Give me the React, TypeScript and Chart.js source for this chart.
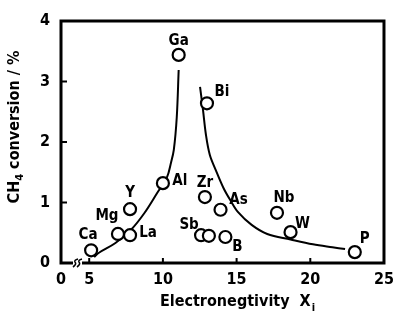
import React, { useEffect, useRef } from "react";
import { Chart, registerables } from "chart.js";

Chart.register(...registerables);

// ---- data ----
const elementLabels = ["Ca", "Mg", "La", "Y", "Al", "Ga", "Bi", "Zr", "As", "Sb", "", "B", "Nb", "W", "P"];
const electronegativity = [5.13, 6.95, 7.77, 7.77, 10.0, 11.07, 12.99, 12.85, 13.91, 12.59, 13.12, 14.24, 17.74, 18.66, 23.02];
const conversion = [0.21, 0.48, 0.46, 0.89, 1.32, 3.44, 2.64, 1.09, 0.88, 0.46, 0.45, 0.43, 0.83, 0.51, 0.18];

const leftCurveX = [5.33, 5.66, 6.78, 7.84, 8.76, 9.62, 10.28, 10.54, 10.74, 10.94, 11.07];
const leftCurveY = [0.1, 0.17, 0.33, 0.55, 0.83, 1.16, 1.42, 1.65, 1.87, 2.41, 3.19];
const rightCurveX = [12.52, 12.72, 12.92, 13.18, 13.58, 14.11, 14.57, 15.1, 16.02, 17.08, 18.66, 20.18, 21.5, 22.36];
const rightCurveY = [2.91, 2.53, 2.12, 1.79, 1.54, 1.24, 1.04, 0.84, 0.63, 0.48, 0.39, 0.31, 0.26, 0.23];

const xMin = 3.086;
const xMax = 25;
const xTickValues = [5, 10, 15, 20, 25];
const yTickValues = [0, 1, 2, 3, 4];

// label placement (offsets from point centre, px)
const labelOffsets: [number, number][] = [
  [-3, -15], [-11, -18], [18, -2], [0, -16], [17, -2], [0, -14], [15, -11], [0, -14],
  [18, -10], [-12, -10], [0, 0], [12, 10], [7, -15], [12, -8], [10, -13],
];

const FONT = '"DejaVu Sans Condensed", "DejaVu Sans", sans-serif';

const decorPlugin = {
  id: "decor",
  afterDatasetsDraw(chart: any) {
    const ctx = chart.ctx;
    const meta = chart.getDatasetMeta(0);
    ctx.save();
    ctx.fillStyle = "#000";
    ctx.font = `bold 15px ${FONT}`;
    ctx.textAlign = "center";
    ctx.textBaseline = "middle";
    meta.data.forEach((pt: any, i: number) => {
      const t = elementLabels[i];
      if (!t) return;
      const [dx, dy] = labelOffsets[i];
      ctx.fillText(t, pt.x + dx, pt.y + dy);
    });
    ctx.restore();
  },
  afterDraw(chart: any) {
    const ctx = chart.ctx;
    const { left, right, top, bottom } = chart.chartArea;
    const xs = chart.scales.x;
    const ys = chart.scales.y;
    ctx.save();
    ctx.strokeStyle = "#000";
    ctx.lineWidth = 3;
    ctx.strokeRect(left, top, right - left, bottom - top);
    // inward ticks
    ctx.lineWidth = 2;
    [1, 2, 3].forEach((v) => {
      const y = ys.getPixelForValue(v);
      ctx.beginPath();
      ctx.moveTo(left, y);
      ctx.lineTo(left + 6, y);
      ctx.stroke();
    });
    [5, 10, 15, 20].forEach((v) => {
      const x = xs.getPixelForValue(v);
      ctx.beginPath();
      ctx.moveTo(x, bottom);
      ctx.lineTo(x, bottom - 5);
      ctx.stroke();
    });
    // axis break
    const bx = left + 12;
    ctx.fillStyle = "#fff";
    ctx.fillRect(bx, bottom - 3, 9, 6);
    ctx.lineWidth = 1.6;
    [0, 4].forEach((o) => {
      ctx.beginPath();
      ctx.moveTo(bx + o, bottom + 4);
      ctx.quadraticCurveTo(bx + o + 4, bottom + 1, bx + o + 2, bottom - 1);
      ctx.quadraticCurveTo(bx + o + 1, bottom - 3, bx + o + 5, bottom - 4);
      ctx.stroke();
    });
    // titles
    ctx.fillStyle = "#000";
    // x title
    const main = "Electronegtivity  X";
    ctx.font = `bold 16px ${FONT}`;
    const w1 = ctx.measureText(main).width;
    ctx.font = `bold 11px ${FONT}`;
    const w2 = ctx.measureText("i").width;
    const cx = 237;
    const cy = 302;
    let sx = cx - (w1 + w2) / 2;
    ctx.textAlign = "left";
    ctx.textBaseline = "middle";
    ctx.font = `bold 16px ${FONT}`;
    ctx.fillText(main, sx, cy);
    ctx.font = `bold 11px ${FONT}`;
    ctx.fillText("i", sx + w1 + 1, cy + 6);
    // y title
    ctx.translate(15, 127);
    ctx.rotate(-Math.PI / 2);
    const p1 = "CH";
    const p2 = "4";
    const p3 = " conversion / %";
    ctx.font = `bold 16px ${FONT}`;
    const a = ctx.measureText(p1).width;
    const c = ctx.measureText(p3).width;
    ctx.font = `bold 11px ${FONT}`;
    const b = ctx.measureText(p2).width;
    let s = -(a + b + c) / 2;
    ctx.font = `bold 16px ${FONT}`;
    ctx.fillText(p1, s, 0);
    ctx.font = `bold 11px ${FONT}`;
    ctx.fillText(p2, s + a, 5);
    ctx.font = `bold 16px ${FONT}`;
    ctx.fillText(p3, s + a + b, 0);
    ctx.restore();
  },
};

export default function App() {
  const ref = useRef<HTMLCanvasElement | null>(null);
  useEffect(() => {
    document.body.style.margin = "0";
    const canvas = ref.current;
    if (!canvas) return;
    const chart = new Chart(canvas, {
      type: "scatter",
      data: {
        datasets: [
          {
            data: electronegativity.map((x, i) => ({ x, y: conversion[i] })),
            pointRadius: 6,
            pointBorderWidth: 2.2,
            pointBackgroundColor: "#fff",
            pointBorderColor: "#000",
            order: 0,
          },
          {
            data: leftCurveX.map((x, i) => ({ x, y: leftCurveY[i] })),
            showLine: true,
            pointRadius: 0,
            borderColor: "#000",
            borderWidth: 2,
            tension: 0.35,
            order: 1,
          },
          {
            data: rightCurveX.map((x, i) => ({ x, y: rightCurveY[i] })),
            showLine: true,
            pointRadius: 0,
            borderColor: "#000",
            borderWidth: 2,
            tension: 0.35,
            order: 1,
          },
        ],
      } as any,
      options: {
        responsive: false,
        animation: false,
        layout: { padding: { top: 21, right: 8, left: 0, bottom: 0 } },
        plugins: { legend: { display: false }, tooltip: { enabled: false } },
        scales: {
          x: {
            type: "linear",
            min: xMin,
            max: xMax,
            grid: { display: false, drawTicks: false },
            border: { display: false },
            afterBuildTicks: (scale: any) => {
              scale.ticks = [xMin, ...xTickValues].map((v) => ({ value: v }));
            },
            afterFit: (scale: any) => {
              scale.height = 59;
            },
            ticks: {
              autoSkip: false,
              maxRotation: 0,
              padding: 7,
              color: "#000",
              font: { family: FONT, size: 16, weight: "bold" },
              callback: (v: any) => (v === xMin ? "0" : String(v)),
            },
          },
          y: {
            type: "linear",
            min: 0,
            max: 4,
            grid: { display: false, drawTicks: false },
            border: { display: false },
            afterBuildTicks: (scale: any) => {
              scale.ticks = yTickValues.map((v) => ({ value: v }));
            },
            afterFit: (scale: any) => {
              scale.width = 61;
            },
            ticks: {
              padding: 11,
              color: "#000",
              font: { family: FONT, size: 16, weight: "bold" },
            },
          },
        },
      } as any,
      plugins: [decorPlugin],
    });
    return () => chart.destroy();
  }, []);
  return <canvas ref={ref} width={401} height={322} style={{ display: "block" }} />;
}
